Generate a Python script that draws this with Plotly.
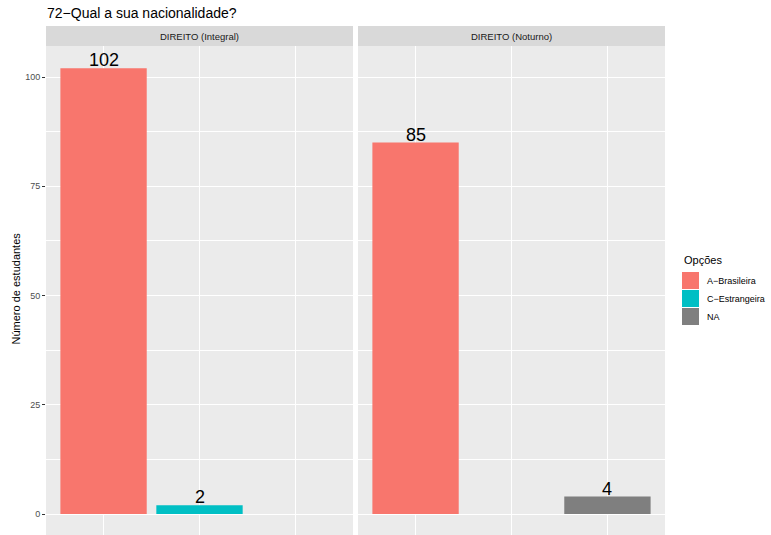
import plotly.graph_objects as go

W, H = 771, 535
title = "72\u2212Qual a sua nacionalidade?"
facets = ["DIREITO (Integral)", "DIREITO (Noturno)"]
categories = ["A\u2212Brasileira", "C\u2212Estrangeira", "NA"]
colors = ["#F8766D", "#00BFC4", "#7F7F7F"]
# values per facet, per category (None = absent)
values = {
    "DIREITO (Integral)": [102, 2, None],
    "DIREITO (Noturno)": [85, None, 4],
}
y_ticks = [0, 25, 50, 75, 100]
y_title = "Número de estudantes"
legend_title = "Opções"

# layout in pixels
px_panels = [(46, 353), (358, 665)]
py_top, py_bot = 46, 535
strip_top = 26

def fx(p):
    return p / W

def fy(p):
    return (H - p) / H

fig = go.Figure()
yr = [-4.8, 107.1]

layout = dict(
    width=W, height=H,
    margin=dict(l=0, r=0, t=0, b=0),
    paper_bgcolor="white", plot_bgcolor="#EBEBEB",
    showlegend=False, bargap=0.1,
    font=dict(family="Liberation Sans, Arial, sans-serif"),
)
shapes = []
annotations = []

for i, f in enumerate(facets):
    xa = "x" if i == 0 else f"x{i+1}"
    ya = "y" if i == 0 else f"y{i+1}"
    for j, c in enumerate(categories):
        v = values[f][j]
        if v is None:
            continue
        fig.add_trace(go.Bar(
            x=[c], y=[v], xaxis=xa, yaxis=ya, width=0.9,
            marker=dict(color=colors[j], line=dict(width=0)),
            name=c, hoverinfo="x+y",
        ))
        annotations.append(dict(text=str(v), xref=xa, yref=ya, x=c, y=v,
                                showarrow=False, xanchor="center", yanchor="bottom",
                                yshift=-4, font=dict(size=18, color="black")))
    x0, x1 = px_panels[i]
    key_x = "xaxis" if i == 0 else f"xaxis{i+1}"
    key_y = "yaxis" if i == 0 else f"yaxis{i+1}"
    layout[key_x] = dict(
        domain=[fx(x0), fx(x1)], type="category",
        categoryorder="array", categoryarray=categories,
        range=[-0.6, 2.6], showticklabels=False, ticks="",
        showgrid=True, gridcolor="white", gridwidth=1.1,
        zeroline=False, showline=False, anchor=ya,
    )
    layout[key_y] = dict(
        domain=[fy(py_bot), fy(py_top)], range=yr,
        tickvals=y_ticks, showticklabels=(i == 0),
        ticks="outside" if i == 0 else "", ticklen=3, tickcolor="#333333",
        tickfont=dict(size=9, color="#4D4D4D"),
        showgrid=True, gridcolor="white", gridwidth=1.1,
        minor=dict(tickvals=[12.5, 37.5, 62.5, 87.5], showgrid=True,
                   gridcolor="white", gridwidth=0.5, ticks=""),
        zeroline=False, showline=False, anchor=xa,
    )
    # strip
    shapes.append(dict(type="rect", xref="paper", yref="paper",
                       x0=fx(x0), x1=fx(x1), y0=fy(py_top), y1=fy(strip_top),
                       fillcolor="#D9D9D9", line=dict(width=0), layer="below"))
    annotations.append(dict(text=f, xref="paper", yref="paper",
                            x=fx((x0 + x1) / 2), y=fy((py_top + strip_top) / 2),
                            showarrow=False, font=dict(size=9.5, color="#1A1A1A"),
                            xanchor="center", yanchor="middle"))

# title
annotations.append(dict(text=title, xref="paper", yref="paper", x=fx(45), y=fy(13.5),
                        showarrow=False, xanchor="left", yanchor="middle",
                        font=dict(size=14, color="black")))
# y title
annotations.append(dict(text=y_title, xref="paper", yref="paper", x=fx(15),
                        y=fy((py_top + py_bot) / 2 - 2), textangle=-90, showarrow=False,
                        xanchor="center", yanchor="middle",
                        font=dict(size=11, color="black")))
# legend
annotations.append(dict(text=legend_title, xref="paper", yref="paper", x=fx(682),
                        y=fy(260), showarrow=False, xanchor="left", yanchor="middle",
                        font=dict(size=11, color="black")))
for j, c in enumerate(categories):
    top = 272 + 18 * j
    shapes.append(dict(type="rect", xref="paper", yref="paper",
                       x0=fx(682), x1=fx(699), y0=fy(top + 17), y1=fy(top),
                       fillcolor=colors[j], line=dict(width=0)))
    annotations.append(dict(text=c, xref="paper", yref="paper", x=fx(705),
                            y=fy(top + 8.5), showarrow=False, xanchor="left",
                            yanchor="middle", font=dict(size=9, color="black")))

layout["shapes"] = shapes
layout["annotations"] = annotations
fig.update_layout(**layout)
fig.write_html("out.html", config={"displayModeBar": False},
               post_script="document.body.style.margin='0';document.body.style.padding='0';")
